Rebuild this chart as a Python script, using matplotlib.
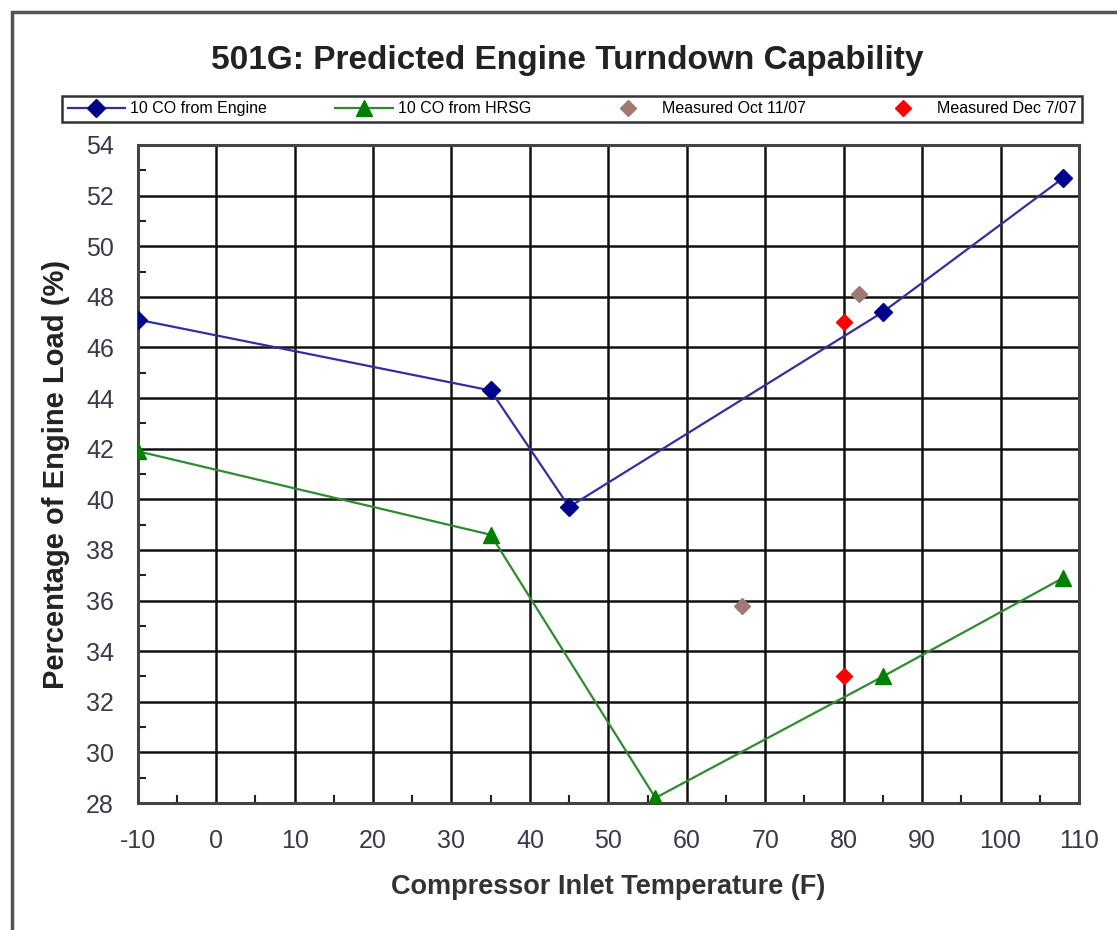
#!/usr/bin/env python3
import numpy as np
import matplotlib
matplotlib.use('Agg')
import matplotlib.pyplot as plt
from matplotlib.patches import Rectangle
from matplotlib.ticker import MultipleLocator

plt.rcParams['font.family'] = ['Liberation Sans', 'DejaVu Sans']
plt.rcParams['axes.unicode_minus'] = False

# data
engine_x = [-10, 35, 45, 85, 108]
engine_y = [47.1, 44.3, 39.7, 47.4, 52.7]
hrsg_x = [-10, 35, 56, 85, 108]
hrsg_y = [41.9, 38.6, 28.2, 33.0, 36.9]
oct_x = [82, 67]
oct_y = [48.1, 35.8]
dec_x = [80, 80]
dec_y = [47.0, 33.0]

title = '501G: Predicted Engine Turndown Capability'
xlab = 'Compressor Inlet Temperature (F)'
ylab = 'Percentage of Engine Load (%)'

fig = plt.figure(figsize=(11.17, 9.30), dpi=100)
W, H = 1117.0, 930.0

# outer frame of the chart object
fig.patches.append(Rectangle((12 / W, -0.1), 1.2, 1 - 12 / H + 0.1, transform=fig.transFigure,
                             fill=False, edgecolor='#555555', linewidth=2.5))

ax_l, ax_r, ax_t, ax_b = 137.7, 1079.0, 145.0, 803.0
ax = fig.add_axes([ax_l / W, 1 - ax_b / H, (ax_r - ax_l) / W, (ax_b - ax_t) / H])

ax.plot(engine_x, engine_y, color='#3030a0', linewidth=1.6, marker='D', markersize=9,
        markerfacecolor='#00008b', markeredgecolor='#00008b', label='10 CO from Engine', zorder=4)
ax.plot(hrsg_x, hrsg_y, color='#2e8b2e', linewidth=1.6, marker='^', markersize=11,
        markerfacecolor='#008000', markeredgecolor='#008000', label='10 CO from HRSG', zorder=4)
ax.plot(oct_x, oct_y, linestyle='none', marker='D', markersize=8, color='#a07a72',
        label='Measured Oct 11/07', zorder=5)
ax.plot(dec_x, dec_y, linestyle='none', marker='D', markersize=8, color='#ff0000',
        label='Measured Dec 7/07', zorder=5)

ax.set_xlim(-10, 110)
ax.set_ylim(28, 54)
ax.xaxis.set_major_locator(MultipleLocator(10))
ax.xaxis.set_minor_locator(MultipleLocator(5))
ax.yaxis.set_major_locator(MultipleLocator(2))
ax.yaxis.set_minor_locator(MultipleLocator(1))
ax.grid(True, which='major', color='#111111', linewidth=1.8)
ax.tick_params(which='both', direction='in', top=False, right=False)
ax.tick_params(which='major', length=0, labelsize=18, labelcolor='#3a3a48')
ax.tick_params(axis='y', which='major', pad=17)
ax.tick_params(axis='x', which='major', pad=19)
ax.tick_params(which='minor', length=6, width=1.5, color='#222222')
for s in ax.spines.values():
    s.set_color('#444444')
    s.set_linewidth(2.2)

ax.set_xlabel(xlab, fontsize=19.5, fontweight='bold', color='#333333')
ax.set_ylabel(ylab, fontsize=21, fontweight='bold', color='#222222')
ax.xaxis.set_label_coords(0.5, (ax_b - 887) / (ax_b - ax_t))
ax.xaxis.label.set_va('center')
ax.yaxis.set_label_coords((56.5 - ax_l) / (ax_r - ax_l), (ax_b - 474) / (ax_b - ax_t))
ax.yaxis.label.set_va('center')

fig.text(567 / W, 1 - 60 / H, title, ha='center', va='center', fontsize=24,
         fontweight='bold', color='#222222')

leg = fig.legend(loc='lower left', ncol=4, mode='expand',
                 bbox_to_anchor=(62 / W, 1 - 122 / H, 1020 / W, 34 / H),
                 fontsize=11.5, frameon=True, fancybox=False, edgecolor='black',
                 handlelength=3.6, handletextpad=0.3, columnspacing=0.5,
                 borderaxespad=0.0, borderpad=0.35)
leg.get_frame().set_linewidth(1.8)

fig.savefig('out.png', dpi=100)
